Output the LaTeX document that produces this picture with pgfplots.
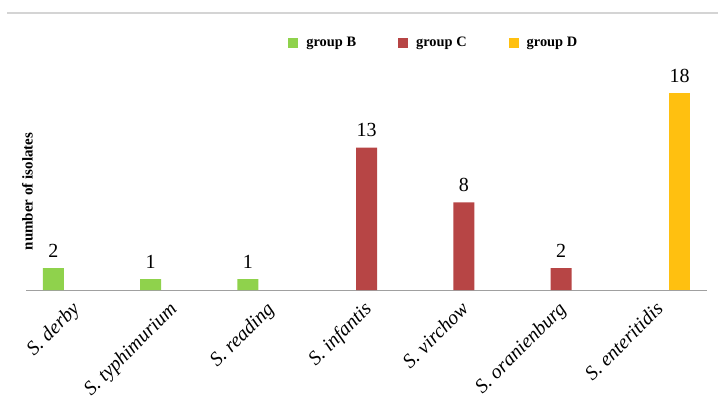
\documentclass[border=0pt]{standalone}
\usepackage{fontspec}
\setmainfont{Liberation Serif}
\usepackage{pgfplots}
\pgfplotsset{compat=1.18}
\definecolor{grB}{RGB}{143,210,76}
\definecolor{grC}{RGB}{183,69,69}
\definecolor{grD}{RGB}{255,192,16}
\definecolor{axgray}{RGB}{160,160,160}
\definecolor{topgray}{RGB}{212,212,212}
\begin{document}
\begin{tikzpicture}
\useasboundingbox (0,0) rectangle (718pt,405pt);
\draw[topgray, line width=1.6pt] (7pt,392pt) -- (718pt,392pt);
\begin{axis}[
  at={(26pt,115pt)}, anchor=south west,
  scale only axis, width=681pt, height=197pt,
  xmin=-0.5, xmax=6.5, ymin=0, ymax=18,
  /pgf/number format/assume math mode=true,
  axis x line*=bottom, axis y line*=left,
  x axis line style={draw=axgray, line width=0.8pt, -},
  y axis line style={draw=none},
  ytick=\empty,
  xtick={0,1,2,3,4,5,6},
  xticklabels={\textit{S. derby}, \textit{S. typhimurium}, \textit{S. reading}, \textit{S. infantis}, \textit{S. virchow}, \textit{S. oranienburg}, \textit{S. enteritidis}},
  major tick length=0pt,
  xticklabel style={font=\fontsize{20}{24}\selectfont, xshift=-4pt, yshift=-10pt, rotate=45, anchor=north east, inner sep=0pt},
  ylabel={number of isolates},
  ylabel style={font=\fontsize{15}{18}\selectfont\bfseries, at={(axis description cs:0.002,0.5)}, anchor=center, rotate=0},
  ybar, bar width=21pt,
  nodes near coords,
  every node near coord/.append style={font=\fontsize{20}{22}\selectfont, anchor=base, yshift=11pt},
  legend columns=3,
  legend style={draw=none, fill=none, inner sep=0pt, font=\fontsize{14.4}{16}\selectfont\bfseries,
    at={(axis description cs:0.385,1.254)}, anchor=west,
    /tikz/every odd column/.style={column sep=6pt},
    /tikz/every even column/.style={column sep=40pt}},
  legend image code/.code={\fill[#1] (0pt,-5pt) rectangle (10pt,5pt);},
  clip=false,
]
\addplot[fill=grB, draw=none, bar shift=-21.3pt] coordinates {(0,2) (1,1) (2,1)};
\addlegendentry{group B}
\addplot[fill=grC, draw=none, bar shift=0pt] coordinates {(3,13) (4,8) (5,2)};
\addlegendentry{group C}
\addplot[fill=grD, draw=none, bar shift=21.3pt] coordinates {(6,18)};
\addlegendentry{group D}
\end{axis}
\end{tikzpicture}
\end{document}
